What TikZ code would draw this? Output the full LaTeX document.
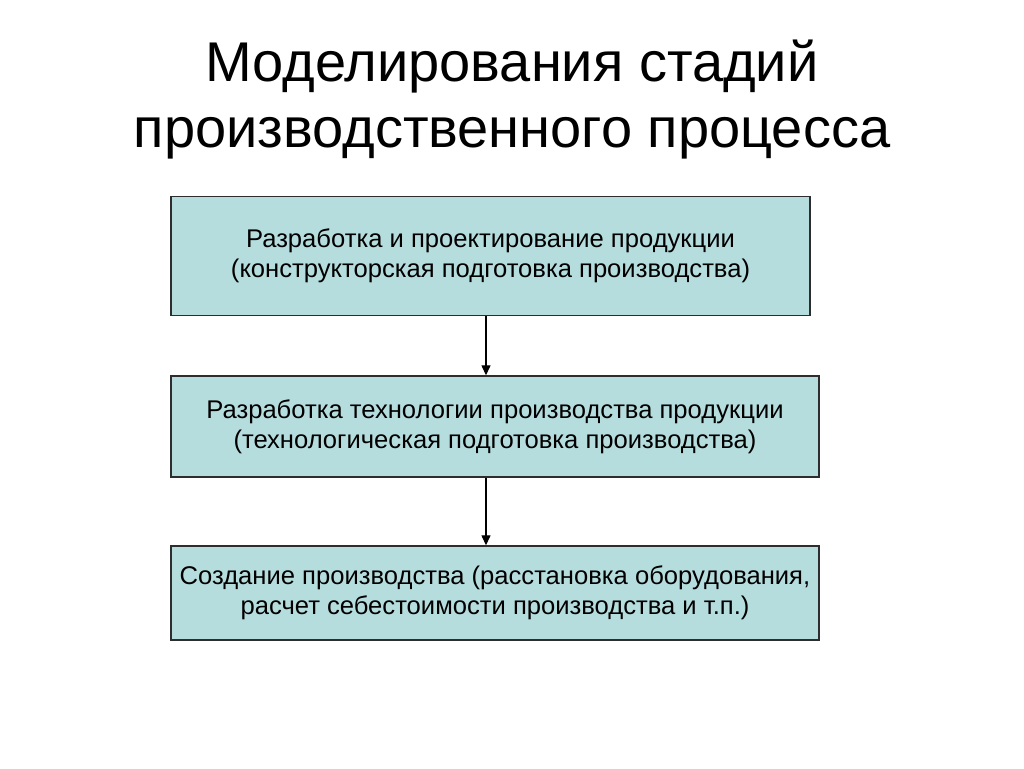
\documentclass[tikz,border=0pt]{standalone}
\usepackage{fontspec}
\setmainfont{Liberation Sans}
\usetikzlibrary{arrows.meta}
\definecolor{boxfill}{RGB}{182,221,222}
\definecolor{boxline}{RGB}{45,45,45}

\begin{document}
\begin{tikzpicture}[x=1pt,y=-1pt,
    stage/.style={draw=boxline,line width=1.4pt,fill=boxfill,align=center,
        inner sep=0pt,font=\fontsize{25.6}{30}\selectfont,
        execute at begin node={\rule{0pt}{25.5pt}}},
    link/.style={line width=1.3pt,-{Triangle[width=9pt,length=10pt]}}]
    \useasboundingbox[fill=white] (0,0) rectangle (1024,768);

    \node[align=center,font=\fontsize{56}{66}\selectfont] (title) at (512,100)
        {Моделирования стадий\\производственного процесса};

    \node[stage,minimum width=639pt,minimum height=119pt] (design) at (490.5,256)
        {Разработка и проектирование продукции\\(конструкторская подготовка производства)};
    \node[stage,minimum width=648pt,minimum height=101pt] (tech) at (495,426.5)
        {Разработка технологии производства продукции\\(технологическая подготовка производства)};
    \node[stage,minimum width=648pt,minimum height=94pt] (prod) at (495,593)
        {Создание производства (расстановка оборудования,\\расчет себестоимости производства и т.п.)};

    \coordinate (ax) at (486,0);
    \draw[link] (design.south -| ax) -- (tech.north -| ax);
    \draw[link] (tech.south -| ax) -- (prod.north -| ax);
\end{tikzpicture}
\end{document}
